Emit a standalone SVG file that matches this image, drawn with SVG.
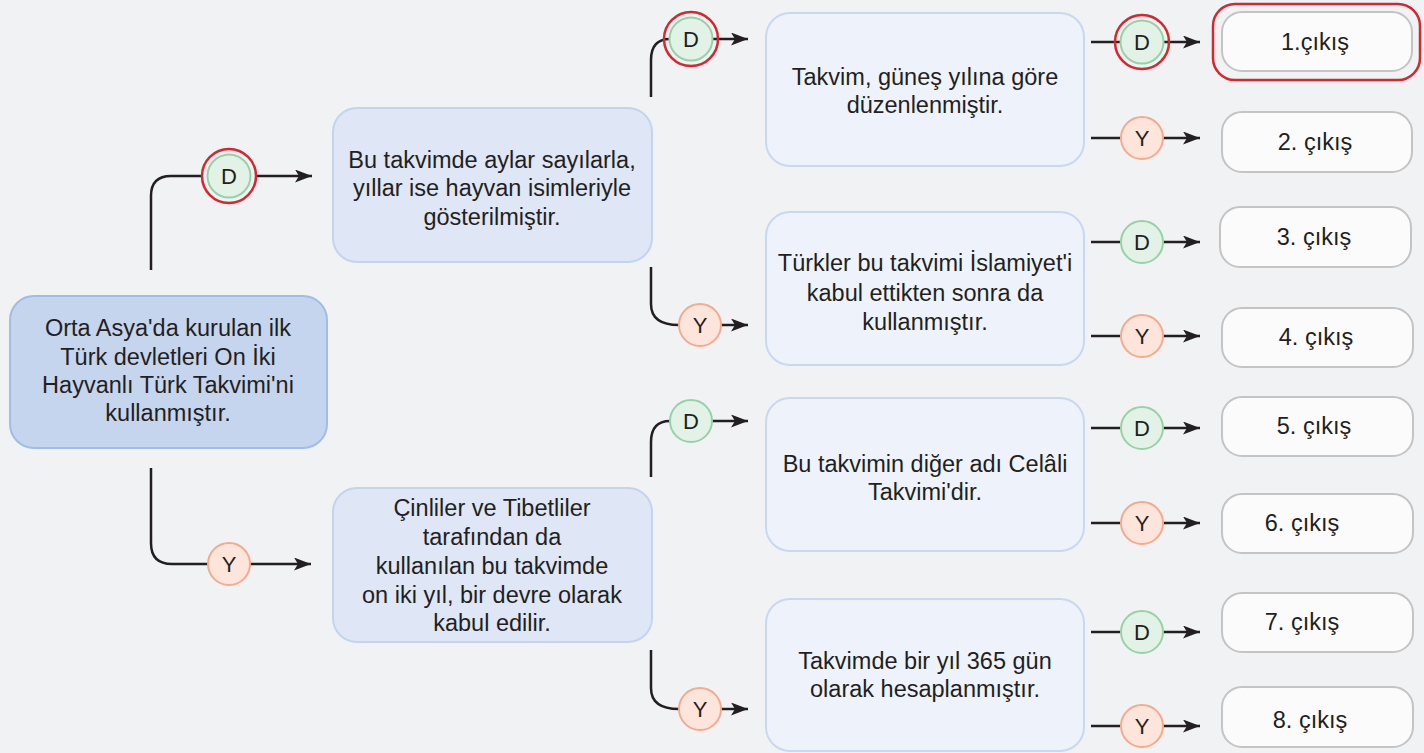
<svg xmlns="http://www.w3.org/2000/svg" width="1424" height="753" viewBox="0 0 1424 753">
<style>
.t{font-family:"Liberation Sans",Arial,sans-serif;font-size:23.5px;fill:#231f20;text-anchor:middle}
.c{font-family:"Liberation Sans",Arial,sans-serif;font-size:22px;fill:#231f20;text-anchor:middle}
.root{fill:#c6d5ee;stroke:#9fbde6;stroke-width:2}
.n2{fill:#dfe6f5;stroke:#c3d4ef;stroke-width:2}
.n3{fill:#eef3fb;stroke:#c8d8f2;stroke-width:2}
.out{fill:#fbfbfb;stroke:#c4c4c4;stroke-width:2}
.cd{fill:#e2f2e6;stroke:#95d3a6;stroke-width:2}
.cy{fill:#fde5dc;stroke:#f6a98b;stroke-width:2}
.ring{fill:none;stroke:#d4282f;stroke-width:2.5}
.ln{fill:none;stroke:#231f20;stroke-width:2.5}
.ar{fill:none;stroke:#231f20;stroke-width:2.5;marker-end:url(#ah)}
</style>
<defs>
<marker id="ah" markerUnits="userSpaceOnUse" markerWidth="18" markerHeight="14" refX="17" refY="6.5" orient="auto">
<path d="M0,0 L17,6.5 L0,13 L4,6.5 z" fill="#231f20"/>
</marker>
</defs>
<rect width="1424" height="753" fill="#f1f2f4"/>

<g id="connectors">
<path class="ln" d="M151,270 V196 Q151,176 171,176 H202"/>
<path class="ar" d="M256,176 H312"/>
<path class="ln" d="M151,468 V543 Q151,564 172,564 H208"/>
<path class="ar" d="M250,564 H311"/>
<path class="ln" d="M651,97 V60 Q651,39 670,39"/>
<path class="ar" d="M712,39 H748"/>
<path class="ln" d="M651,267 V304 Q651,325 679,325"/>
<path class="ar" d="M721,325 H748"/>
<path class="ln" d="M651,477 V442 Q651,421 670,421"/>
<path class="ar" d="M712,421 H748"/>
<path class="ln" d="M651,650 V688 Q651,709 679,709"/>
<path class="ar" d="M721,709 H748"/>
<path class="ln" d="M1091,42 H1120"/><path class="ar" d="M1163,42 H1200"/>
<path class="ln" d="M1091,138 H1120"/><path class="ar" d="M1163,138 H1200"/>
<path class="ln" d="M1091,242 H1120"/><path class="ar" d="M1163,242 H1200"/>
<path class="ln" d="M1091,336 H1120"/><path class="ar" d="M1163,336 H1200"/>
<path class="ln" d="M1091,428 H1120"/><path class="ar" d="M1163,428 H1200"/>
<path class="ln" d="M1091,523 H1120"/><path class="ar" d="M1163,523 H1200"/>
<path class="ln" d="M1091,632 H1120"/><path class="ar" d="M1163,632 H1200"/>
<path class="ln" d="M1091,726 H1120"/><path class="ar" d="M1163,726 H1200"/>
</g>

<g id="c-root-d"><circle class="cd" cx="229" cy="176" r="21.5"/><circle class="ring" cx="229" cy="176" r="27"/><text class="c" x="229" y="184">D</text></g>
<g id="c-root-y"><circle class="cy" cx="229" cy="564" r="21"/><text class="c" x="229" y="572">Y</text></g>
<g id="c-a-d"><circle class="cd" cx="691" cy="39" r="21.5"/><circle class="ring" cx="691" cy="39" r="27"/><text class="c" x="691" y="47">D</text></g>
<g id="c-a-y"><circle class="cy" cx="700" cy="325" r="21"/><text class="c" x="700" y="333">Y</text></g>
<g id="c-b-d"><circle class="cd" cx="691" cy="421" r="21"/><text class="c" x="691" y="429">D</text></g>
<g id="c-b-y"><circle class="cy" cx="700" cy="709" r="21"/><text class="c" x="700" y="717">Y</text></g>

<g id="c-1"><circle class="cd" cx="1142" cy="42" r="21.5"/><circle class="ring" cx="1142" cy="42" r="27"/><text class="c" x="1142" y="50">D</text></g>
<g id="c-2"><circle class="cy" cx="1142" cy="138" r="21"/><text class="c" x="1142" y="146">Y</text></g>
<g id="c-3"><circle class="cd" cx="1142" cy="242" r="21"/><text class="c" x="1142" y="250">D</text></g>
<g id="c-4"><circle class="cy" cx="1142" cy="336" r="21"/><text class="c" x="1142" y="344">Y</text></g>
<g id="c-5"><circle class="cd" cx="1142" cy="428" r="21"/><text class="c" x="1142" y="436">D</text></g>
<g id="c-6"><circle class="cy" cx="1142" cy="523" r="21"/><text class="c" x="1142" y="531">Y</text></g>
<g id="c-7"><circle class="cd" cx="1142" cy="632" r="21"/><text class="c" x="1142" y="640">D</text></g>
<g id="c-8"><circle class="cy" cx="1142" cy="726" r="21"/><text class="c" x="1142" y="734">Y</text></g>

<g id="root">
<rect class="root" x="10" y="296" width="317" height="152" rx="24"/>
<text class="t" x="168" y="336">Orta Asya'da kurulan ilk</text>
<text class="t" x="168" y="365">Türk devletleri On İki</text>
<text class="t" x="168" y="393">Hayvanlı Türk Takvimi'ni</text>
<text class="t" x="168" y="421">kullanmıştır.</text>
</g>

<g id="n-a">
<rect class="n2" x="333" y="108" width="319" height="154" rx="24"/>
<text class="t" x="492" y="168">Bu takvimde aylar sayılarla,</text>
<text class="t" x="492" y="196">yıllar ise hayvan isimleriyle</text>
<text class="t" x="492" y="225">gösterilmiştir.</text>
</g>

<g id="n-b">
<rect class="n2" x="333" y="488" width="319" height="154" rx="24"/>
<text class="t" x="492" y="516">Çinliler ve Tibetliler</text>
<text class="t" x="492" y="545">tarafından da</text>
<text class="t" x="492" y="574">kullanılan bu takvimde</text>
<text class="t" x="492" y="603">on iki yıl, bir devre olarak</text>
<text class="t" x="492" y="631">kabul edilir.</text>
</g>

<g id="n-a1">
<rect class="n3" x="766" y="13" width="318" height="153" rx="24"/>
<text class="t" x="925" y="85">Takvim, güneş yılına göre</text>
<text class="t" x="925" y="113">düzenlenmiştir.</text>
</g>
<g id="n-a2">
<rect class="n3" x="766" y="212" width="318" height="153" rx="24"/>
<text class="t" x="925" y="271">Türkler bu takvimi İslamiyet'i</text>
<text class="t" x="925" y="301">kabul ettikten sonra da</text>
<text class="t" x="925" y="330">kullanmıştır.</text>
</g>
<g id="n-b1">
<rect class="n3" x="766" y="398" width="318" height="153" rx="24"/>
<text class="t" x="925" y="472">Bu takvimin diğer adı Celâli</text>
<text class="t" x="925" y="500">Takvimi'dir.</text>
</g>
<g id="n-b2">
<rect class="n3" x="766" y="599" width="318" height="152" rx="24"/>
<text class="t" x="925" y="669">Takvimde bir yıl 365 gün</text>
<text class="t" x="925" y="697">olarak hesaplanmıştır.</text>
</g>

<g id="o1"><rect class="ring" x="1213" y="4" width="207" height="76" rx="22"/><rect class="out" x="1222" y="12" width="190" height="59" rx="20"/><text class="t" x="1315" y="50">1.çıkış</text></g>
<g id="o2"><rect class="out" x="1222" y="112" width="190" height="60" rx="20"/><text class="t" x="1315" y="150">2. çıkış</text></g>
<g id="o3"><rect class="out" x="1220" y="207" width="191" height="60" rx="20"/><text class="t" x="1314" y="245">3. çıkış</text></g>
<g id="o4"><rect class="out" x="1222" y="308" width="191" height="59" rx="20"/><text class="t" x="1316" y="345">4. çıkış</text></g>
<g id="o5"><rect class="out" x="1222" y="397" width="191" height="59" rx="20"/><text class="t" x="1314" y="434">5. çıkış</text></g>
<g id="o6"><rect class="out" x="1222" y="494" width="191" height="59" rx="20"/><text class="t" x="1302" y="531">6. çıkış</text></g>
<g id="o7"><rect class="out" x="1222" y="593" width="191" height="59" rx="20"/><text class="t" x="1302" y="630">7. çıkış</text></g>
<g id="o8"><rect class="out" x="1222" y="687" width="191" height="60" rx="20"/><text class="t" x="1310" y="728">8. çıkış</text></g>
</svg>
